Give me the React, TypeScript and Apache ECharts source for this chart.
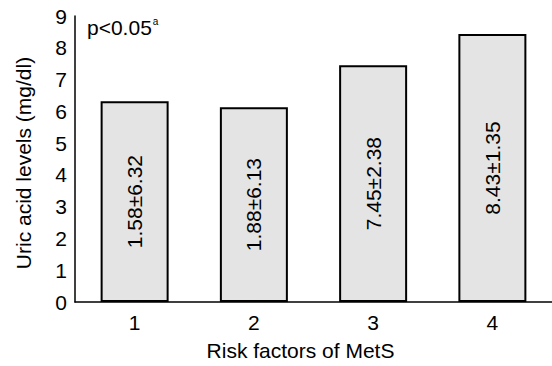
import React, { useEffect, useRef } from "react";
import * as echarts from "echarts";

const categories = ["1", "2", "3", "4"];
const means = [6.32, 6.13, 7.45, 8.43];
const barLabels = ["1.58±6.32", "1.88±6.13", "7.45±2.38", "8.43±1.35"];
const yTicks = [0, 1, 2, 3, 4, 5, 6, 7, 8, 9];

const FONT = "'Liberation Sans', Arial, sans-serif";
const FS = 21;

export default function App() {
  const ref = useRef<HTMLDivElement>(null);
  useEffect(() => {
    if (!ref.current) return;
    const chart = echarts.init(ref.current, null, { renderer: "svg" });
    chart.setOption({
      animation: false,
      textStyle: { fontFamily: FONT },
      grid: { left: 75, top: 16, width: 484, height: 288 },
      xAxis: {
        type: "category",
        data: categories,
        axisLine: { lineStyle: { color: "#000", width: 1.5 } },
        axisTick: { show: false },
        axisLabel: { color: "#000", fontSize: FS, fontFamily: FONT, margin: 10 },
        name: "Risk factors of MetS",
        nameLocation: "middle",
        nameGap: 38,
        nameTextStyle: { color: "#000", fontSize: FS, fontFamily: FONT, padding: [0, 26, 0, 0] },
      },
      yAxis: {
        type: "value",
        min: yTicks[0],
        max: yTicks[yTicks.length - 1],
        interval: 1,
        axisLine: { show: true, lineStyle: { color: "#000", width: 1.5 } },
        axisTick: { show: false },
        splitLine: { show: false },
        axisLabel: { color: "#000", fontSize: FS, fontFamily: FONT, margin: 8 },
        name: "Uric acid levels (mg/dl)",
        nameLocation: "middle",
        nameGap: 41,
        nameTextStyle: { color: "#000", fontSize: FS, fontFamily: FONT, padding: [0, 8, 0, 0] },
      },
      series: [
        {
          type: "bar",
          data: means,
          barWidth: 68,
          itemStyle: { color: "#e4e4e4", borderColor: "#000", borderWidth: 2 },
          label: {
            show: true,
            position: "inside",
            rotate: 90,
            color: "#000",
            fontSize: FS,
            fontFamily: FONT,
            formatter: (p: any) => barLabels[p.dataIndex],
          },
        },
      ],
      graphic: [
        {
          type: "text",
          left: 87,
          top: 16,
          style: {
            text: "{m|p<0.05}{s|a}",
            fill: "#000",
            font: `${FS}px ${FONT}`,
            rich: {
              m: { fontSize: FS, fontFamily: FONT, fill: "#000" },
              s: { fontSize: 10, fontFamily: FONT, fill: "#000", verticalAlign: "top", padding: [0, 0, 12, 1] },
            },
          },
        },
      ],
    });
    return () => chart.dispose();
  }, []);
  return (
    <div
      ref={ref}
      style={{ position: "absolute", left: 0, top: 0, width: 552, height: 366, background: "#fff" }}
    />
  );
}
